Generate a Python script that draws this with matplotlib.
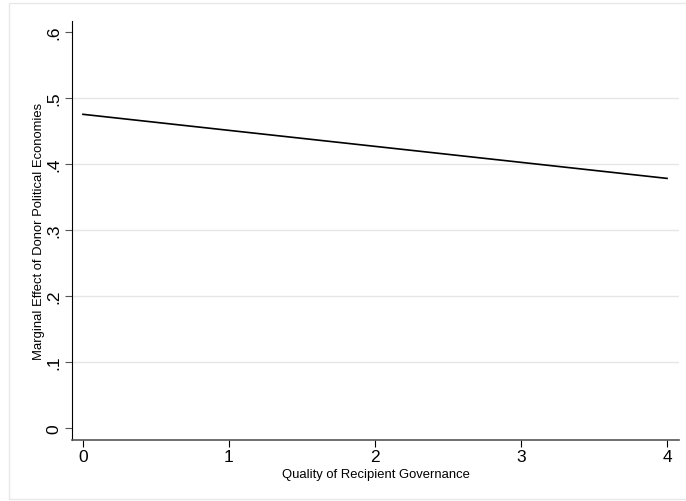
import numpy as np
import matplotlib
matplotlib.use('Agg')
import matplotlib.pyplot as plt
from matplotlib.patches import Rectangle

# governance score vs marginal effect
governance = [0, 1, 2, 3, 4]
marginal_effect = [0.475, 0.4507, 0.4265, 0.4023, 0.378]
yticks = [0, 0.1, 0.2, 0.3, 0.4, 0.5, 0.6]
ytick_labels = ['0', '.1', '.2', '.3', '.4', '.5', '.6']
xticks = [0, 1, 2, 3, 4]

plt.rcParams['font.family'] = ['Liberation Sans', 'DejaVu Sans']

fig = plt.figure(figsize=(6.86, 5.02), dpi=100)
# faint outer frame like the stata graph region
fig.patches.append(Rectangle((9 / 686, 1 - 500 / 502), 1.0, 496 / 502,
                             transform=fig.transFigure, fill=False,
                             edgecolor='#e8e8e8', linewidth=1.0))

ax = fig.add_axes([72.3 / 686, 1 - 441 / 502, (679 - 72.3) / 686, (441 - 22.3) / 502])

for v in yticks[1:-1]:
    ax.axhline(v, color='#e6e6e6', linewidth=1.0, zorder=0)

ax.plot(governance, marginal_effect, color='black', linewidth=1.2)

ax.set_xlim(-0.073, 4.082)
ax.set_ylim(-0.018, 0.6158)
ax.set_xticks(xticks)
ax.set_yticks(yticks)
ax.set_yticklabels(ytick_labels, rotation=90, va='center')

ax.spines['top'].set_visible(False)
ax.spines['right'].set_visible(False)
ax.spines['left'].set_color('black')
ax.spines['bottom'].set_color('#555555')
ax.spines['bottom'].set_linewidth(1.2)

ax.tick_params(axis='both', direction='out', length=4.7, width=0.8, labelsize=12.5)
ax.tick_params(axis='y', colors='#555555', labelcolor='black', pad=3)
ax.tick_params(axis='x', colors='black', pad=2)

ax.set_xlabel('Quality of Recipient Governance', fontsize=9.4, labelpad=3)
ax.set_ylabel('Marginal Effect of Donor Political Economies', fontsize=9.4, labelpad=1.5)

fig.savefig('out.png', dpi=100)
